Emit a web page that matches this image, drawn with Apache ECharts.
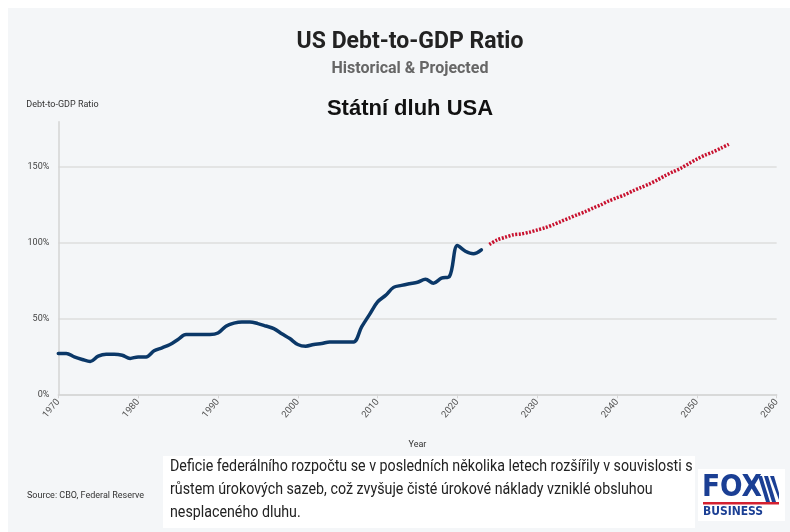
<!DOCTYPE html>
<html>
<head>
<meta charset="utf-8">
<script src="https://cdn.jsdelivr.net/npm/echarts@6/dist/echarts.min.js"></script>
<style>
html,body{margin:0;padding:0;background:#ffffff;}
#chart{width:790px;height:532px;}
</style>
</head>
<body>
<div id="chart"></div>
<script>
// ---- data ----
const historicalYears = [1970,1971,1972,1973,1974,1975,1976,1977,1978,1979,
  1980,1981,1982,1983,1984,1985,1986,1987,1988,1989,
  1990,1991,1992,1993,1994,1995,1996,1997,1998,1999,
  2000,2001,2002,2003,2004,2005,2006,2007,2008,2009,
  2010,2011,2012,2013,2014,2015,2016,2017,2018,2019,
  2020,2021,2022,2023];
const historicalValues = [27,27,24.7,23,21.7,25.2,26.5,26.5,25.8,23.7,
  24.7,24.7,28.7,30.7,32.9,36.2,39.5,39.5,39.5,39.5,
  40.5,45,47,47.8,47.8,46.7,45.1,43.4,40,36.8,
  32.9,31.8,32.9,33.5,34.6,34.6,34.6,34.6,44.5,52.8,
  61,65.3,70.6,71.9,73,74,75.9,73.4,76.7,77.8,
  98.2,94.5,92.8,95.4];
const projectedYears = [2024,2025,2026,2027,2028,2029,2030,2031,2032,2033,
  2034,2035,2036,2037,2038,2039,2040,2041,2042,2043,
  2044,2045,2046,2047,2048,2049,2050,2051,2052,2053,2054];
const projectedValues = [98.9,102,103.7,105.3,105.9,107,108.5,110,112,114.2,
  116.4,118.6,120.6,123,125.2,127.8,129.8,131.8,134.4,136.6,
  138.8,141.4,144.3,146.9,149.3,152.4,155.3,157.9,160,162.5,165.1];
const yTicks = [0,50,100,150];
const xTickYears = [1970,1980,1990,2000,2010,2020,2030,2040,2050,2060];

const titleText = 'US Debt-to-GDP Ratio';
const subtitleText = 'Historical & Projected';
const overlayTitle = 'Státní dluh USA';
const yAxisName = 'Debt-to-GDP Ratio';
const xAxisName = 'Year';
const sourceText = 'Source: CBO, Federal Reserve';
const captionLines = [
  'Deficie federálního rozpočtu se v posledních několika letech rozšířily v souvislosti s',
  'růstem úrokových sazeb, což zvyšuje čisté úrokové náklady vzniklé obsluhou',
  'nesplaceného dluhu.'
];

const histData = historicalYears.map((y,i)=>[y, historicalValues[i]]);
const projData = projectedYears.map((y,i)=>[y, projectedValues[i]]);

const chart = echarts.init(document.getElementById('chart'), null, {renderer:'canvas'});
const F = 'Roboto, "Noto Sans", sans-serif';

const option = {
  backgroundColor: '#ffffff',
  animation: false,
  title: [
    {text: titleText, left: 405, top: 26, textAlign: 'center',
     textStyle:{fontFamily:F, fontSize:23, fontWeight:'bold', color:'#222'}},
    {text: subtitleText, left: 405, top: 56, textAlign: 'center',
     textStyle:{fontFamily:F, fontSize:16, fontWeight:'bold', color:'#666'}},
    {text: overlayTitle, left: 405, top: 93, textAlign: 'center',
     textStyle:{fontFamily:'"Liberation Sans", Arial, sans-serif', fontSize:22, fontWeight:'bold', color:'#111'}}
  ],
  grid: {left: 58.3, right: 13.3, top: 121.7, bottom: 137.7, containLabel: false},
  xAxis: {
    type: 'value', min: 1970, max: 2060, interval: 10,
    name: xAxisName, nameLocation: 'middle', nameGap: 46,
    nameTextStyle: {fontFamily:F, fontSize:9, color:'#333'},
    axisLine: {show:true, lineStyle:{color:'#d5d5d5', width:1.5}},
    axisTick: {show:true, length:4, lineStyle:{color:'#d5d5d5'}},
    splitLine: {show:false},
    axisLabel: {rotate: 50, fontFamily:F, fontSize:9.5, color:'#555', margin:6,
      formatter: v => xTickYears.includes(v) ? String(v) : ''}
  },
  yAxis: {
    type: 'value', min: 0, max: 180, interval: 50,
    name: yAxisName, nameLocation: 'end', nameGap: 12,
    nameTextStyle: {fontFamily:F, fontSize:9, color:'#333', align:'left', padding:[0,0,0,-32]},
    axisLine: {show:true, lineStyle:{color:'#d5d5d5', width:1.5}},
    axisTick: {show:false},
    splitLine: {show:true, showMaxLine:false, lineStyle:{color:'#dedede', width:1.5}},
    axisLabel: {fontFamily:F, fontSize:9, color:'#444', margin:9, showMaxLabel:false,
      formatter: v => yTicks.includes(v) ? v + '%' : ''}
  },
  series: [
    {type:'line', name:'Historical', data: histData, smooth: 0.35, showSymbol:false,
     lineStyle:{color:'#0b3868', width:3.5, cap:'round', join:'round'}, z:3},
    {type:'line', name:'Projected', data: projData, smooth: 0.3, showSymbol:false,
     lineStyle:{color:'#c8102e', width:3.5, type:[2,1.5]}, z:3}
  ],
  graphic: [
    {type:'rect', z:-100, silent:true, shape:{x:8,y:8,width:782,height:524}, style:{fill:'#f4f6f8'}},
    {type:'text', left:27, top:491, style:{text:sourceText, font:'9px '+F, fill:'#333'}},
    {type:'rect', shape:{x:163,y:456,width:532,height:72}, style:{fill:'#ffffff'}},
    {type:'text', x:170, y:459, scaleX:0.89, style:{text:captionLines[0], font:'16px '+F, fill:'#222'}},
    {type:'text', x:170, y:482, scaleX:0.89, style:{text:captionLines[1], font:'16px '+F, fill:'#222'}},
    {type:'text', x:170, y:505, scaleX:0.89, style:{text:captionLines[2], font:'16px '+F, fill:'#222'}},
    {type:'rect', shape:{x:698,y:469,width:87,height:52}, style:{fill:'#ffffff'}},
    {type:'text', x:702, y:472, scaleX:0.95, style:{text:'FOX', font:'bold 31px "DejaVu Sans Condensed", "DejaVu Sans", sans-serif', fill:'#1b3f94'}},
    {type:'polygon', shape:{points:[[758,476],[762,476],[770,502],[766,502]]}, style:{fill:'#1b3f94'}},
    {type:'polygon', shape:{points:[[764,476],[768,476],[776,502],[772,502]]}, style:{fill:'#1b3f94'}},
    {type:'polygon', shape:{points:[[770,476],[774,476],[779,493],[779,500]]}, style:{fill:'#1b3f94'}},
    {type:'rect', shape:{x:703,y:502,width:76,height:2.5}, style:{fill:'#d32030'}},
    {type:'text', x:703, y:505, scaleX:0.92, style:{text:'BUSINESS', font:'bold 13px "DejaVu Sans Condensed", "DejaVu Sans", sans-serif', fill:'#1b3f94'}}
  ]
};
chart.setOption(option);
</script>
</body>
</html>
